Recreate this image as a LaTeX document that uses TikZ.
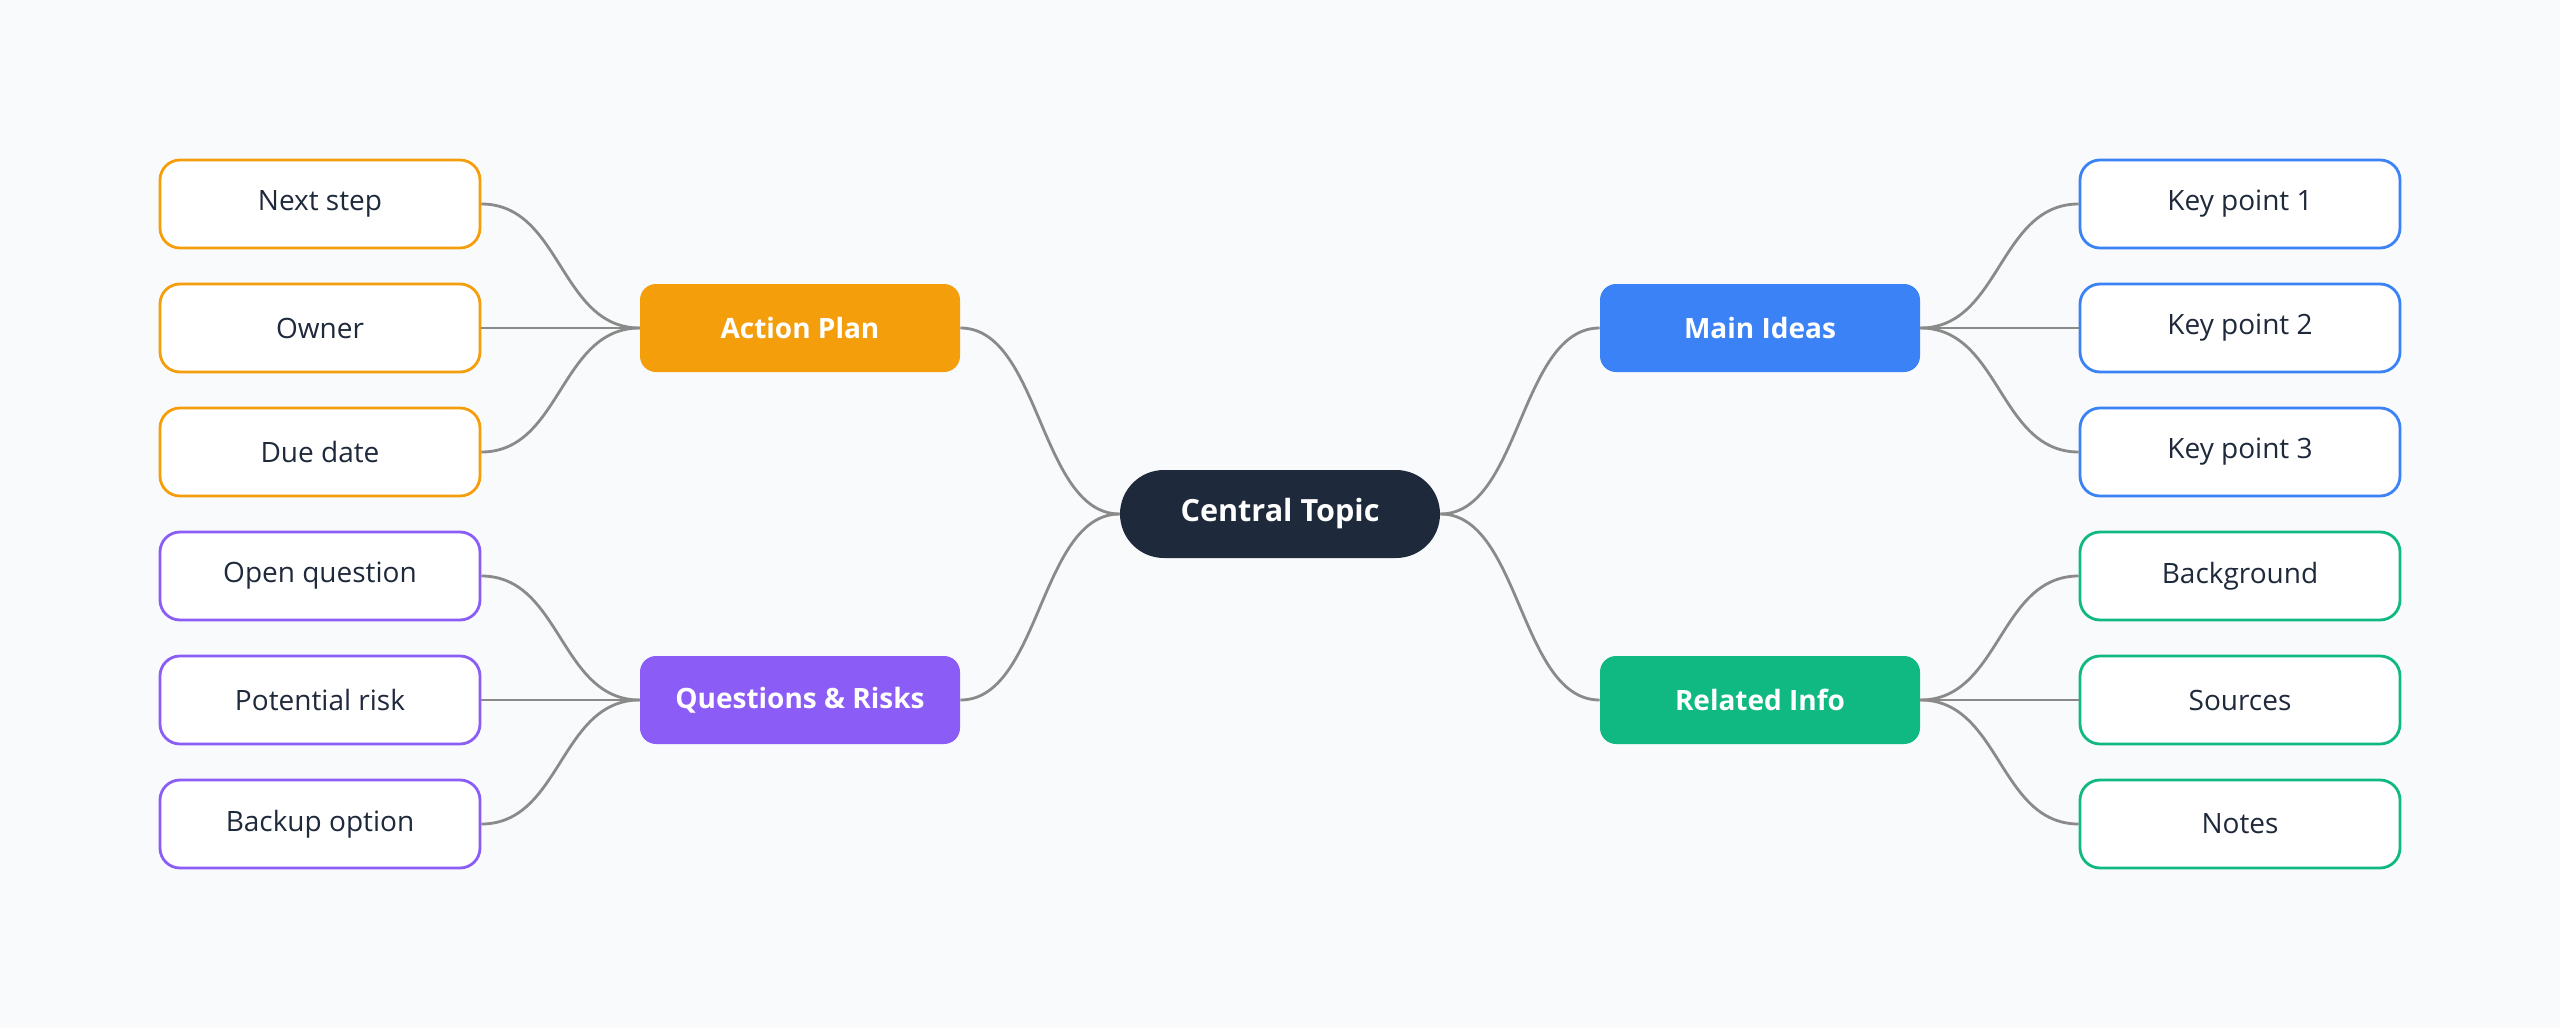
\documentclass[tikz,border=0pt]{standalone}
\usepackage{fontspec}
\setmainfont{Open Sans}

\definecolor{bgcol}{HTML}{F8FAFC}
\definecolor{textcol}{HTML}{1E293B}
\definecolor{centercol}{HTML}{1E293B}
\definecolor{linkcol}{HTML}{8A8A8A}
\definecolor{actioncol}{HTML}{F59E0B}
\definecolor{ideacol}{HTML}{3B82F6}
\definecolor{riskcol}{HTML}{8B5CF6}
\definecolor{infocol}{HTML}{10B981}

\tikzset{
  leaf/.style={draw=#1, fill=white, line width=1.4pt, rounded corners=10pt,
    minimum width=160pt, minimum height=44pt, inner sep=0pt,
    text=textcol, font=\fontsize{14}{17}\selectfont},
  branch/.style={fill=#1, rounded corners=8pt, minimum width=160pt,
    minimum height=44pt, inner sep=0pt, text=white,
    font=\bfseries\fontsize{14}{17}\selectfont},
  hub/.style={fill=centercol, rounded corners=22pt, minimum width=160pt,
    minimum height=44pt, inner sep=0pt, text=white,
    font=\bfseries\fontsize{15.3}{18}\selectfont},
  link/.style={draw=linkcol, line width=1.4pt},
}

\begin{document}
\begin{tikzpicture}[x=0.5pt, y=-0.5pt] % coordenadas en pixeles
  % Fondo
  \fill[bgcol] (0,0) rectangle (2560,1028);

  % Tema central
  \node[hub] (central) at (1280,514) {Central Topic};

  % Ramas
  \node[branch=actioncol] (action) at (800,328) {Action Plan};
  \node[branch=riskcol] (risks) at (800,700) {Questions \& Risks};
  \node[branch=ideacol] (ideas) at (1760,328) {Main Ideas};
  \node[branch=infocol] (info) at (1760,700) {Related Info};

  % Hojas izquierda
  \node[leaf=actioncol] (nextstep) at (320,204) {Next step};
  \node[leaf=actioncol] (owner) at (320,328) {Owner};
  \node[leaf=actioncol] (duedate) at (320,452) {Due date};
  \node[leaf=riskcol] (openq) at (320,576) {Open question};
  \node[leaf=riskcol] (risk) at (320,700) {Potential risk};
  \node[leaf=riskcol] (backup) at (320,824) {Backup option};

  % Hojas derecha
  \node[leaf=ideacol] (key1) at (2240,204) {Key point 1};
  \node[leaf=ideacol] (key2) at (2240,328) {Key point 2};
  \node[leaf=ideacol] (key3) at (2240,452) {Key point 3};
  \node[leaf=infocol] (background) at (2240,576) {Background};
  \node[leaf=infocol] (sources) at (2240,700) {Sources};
  \node[leaf=infocol] (notes) at (2240,824) {Notes};

  % Conexiones centro - ramas
  \draw[link] (central.west) .. controls +(-40pt,0) and +(40pt,0) .. (action.east);
  \draw[link] (central.west) .. controls +(-40pt,0) and +(40pt,0) .. (risks.east);
  \draw[link] (central.east) .. controls +(40pt,0) and +(-40pt,0) .. (ideas.west);
  \draw[link] (central.east) .. controls +(40pt,0) and +(-40pt,0) .. (info.west);

  % Conexiones ramas - hojas
  \draw[link] (action.west) .. controls +(-40pt,0) and +(40pt,0) .. (nextstep.east);
  \draw[link] (action.west) -- (owner.east);
  \draw[link] (action.west) .. controls +(-40pt,0) and +(40pt,0) .. (duedate.east);
  \draw[link] (risks.west) .. controls +(-40pt,0) and +(40pt,0) .. (openq.east);
  \draw[link] (risks.west) -- (risk.east);
  \draw[link] (risks.west) .. controls +(-40pt,0) and +(40pt,0) .. (backup.east);
  \draw[link] (ideas.east) .. controls +(40pt,0) and +(-40pt,0) .. (key1.west);
  \draw[link] (ideas.east) -- (key2.west);
  \draw[link] (ideas.east) .. controls +(40pt,0) and +(-40pt,0) .. (key3.west);
  \draw[link] (info.east) .. controls +(40pt,0) and +(-40pt,0) .. (background.west);
  \draw[link] (info.east) -- (sources.west);
  \draw[link] (info.east) .. controls +(40pt,0) and +(-40pt,0) .. (notes.west);
\end{tikzpicture}
\end{document}
